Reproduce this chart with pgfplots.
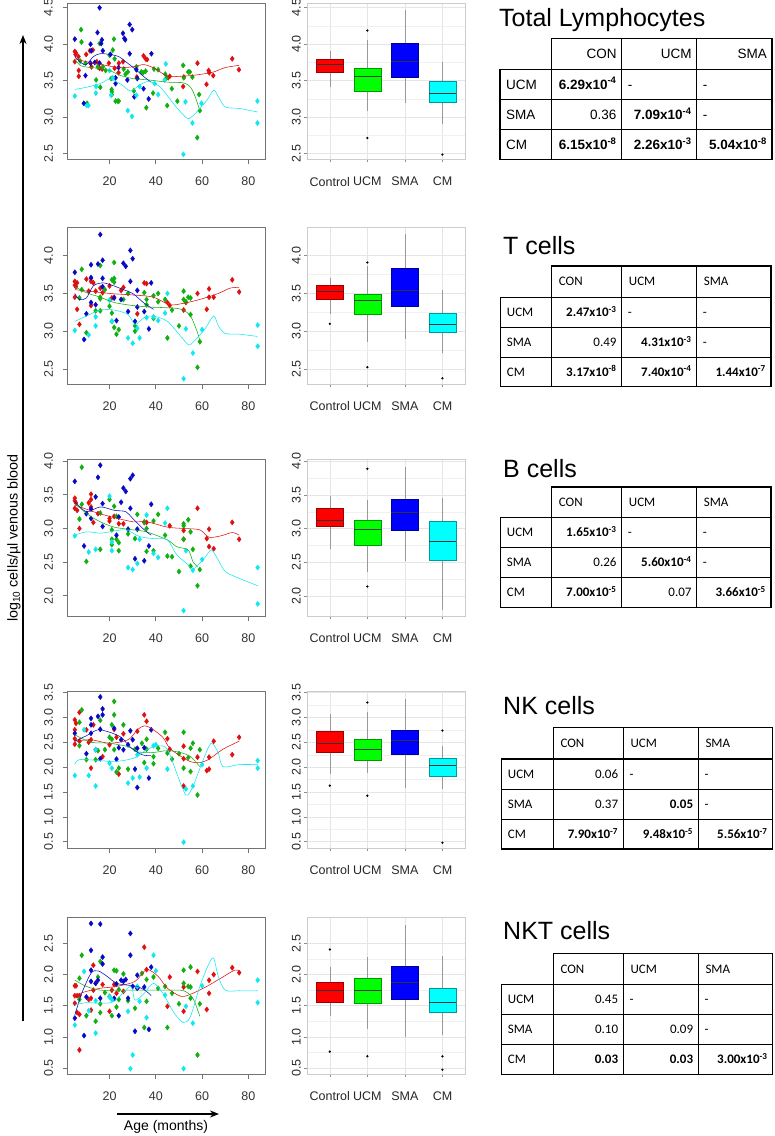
\documentclass[border=0pt]{standalone}
\usepackage{fontspec}
\setmainfont{Liberation Sans}
\newfontfamily\calfont{Carlito}
\usepackage{pgfplots}
\pgfplotsset{compat=1.18}
\usepgfplotslibrary{statistics}
\usetikzlibrary{arrows.meta}

\definecolor{cR}{HTML}{E01010}
\definecolor{cG}{HTML}{10B010}
\definecolor{cB}{HTML}{0808C8}
\definecolor{cC}{HTML}{10E8F0}
\definecolor{bR}{HTML}{FF0000}
\definecolor{bG}{HTML}{00FF00}
\definecolor{bB}{HTML}{0000FF}
\definecolor{bC}{HTML}{00FFFF}

\pgfplotsset{
  sc/.style={scale only axis, width=197.5pt, height=156.5pt,
    xmin=1.84, xmax=87.16, xtick={20,40,60,80}, xticklabels={20,40,60,80},
    tick pos=left, tick align=outside, major tick length=5pt,
    axis line style={draw=black!55, line width=0.9pt},
    tick style={draw=black!55, line width=0.7pt},
    tick label style={font=\fontsize{12.5}{13}\selectfont, text=black!80},
    yticklabel=\empty, clip mode=individual,
    xticklabel style={yshift=-9pt}},
  bx/.style={scale only axis, width=157.7pt, height=156.5pt,
    xmin=0.4, xmax=4.6, xtick={1,2,3,4}, xticklabels={Control,UCM,SMA,CM},
    tick pos=left, tick align=outside, major tick length=3pt,
    axis line style={draw=black!20, line width=0.6pt},
    tick style={draw=black!45, line width=0.5pt},
    xmajorgrids, ymajorgrids, yminorgrids, minor y tick num=1, minor tick length=0pt,
    major grid style={draw=black!10, line width=0.5pt},
    minor grid style={draw=black!6, line width=0.3pt},
    tick label style={font=\fontsize{12.5}{13}\selectfont, text=black!85},
    yticklabel style={rotate=90, anchor=south},
    xticklabel style={yshift=-11pt},
    boxplot/draw direction=y,
    boxplot/box extend=0.72, boxplot/whisker extend=0,
    boxplot/every median/.style={draw=black!80, line width=0.9pt}},
  pt/.style={only marks, mark=diamond*, mark size=2.6pt, color=#1},
  ln/.style={no marks, smooth, line width=0.55pt, color=#1},
}

\newcommand{\yl}[2]{\node[xshift=-19pt, rotate=90, inner sep=0pt, font=\fontsize{12.5}{13}\selectfont, text=black!80] at (axis cs:1.84,#1) {#2};}
\newcommand{\bxp}[8]{\addplot[boxplot prepared={draw position=#1, lower whisker=#3, lower quartile=#4, median=#5, upper quartile=#6, upper whisker=#7}, draw=black!40, line width=0.6pt, boxplot/every box/.style={draw=#2!60!black, fill=#2}, mark=*, mark size=0.8pt, mark options={draw=black, fill=black}] coordinates {#8};}

\newcommand{\tabgrid}[5]{%
 \draw[line width=1.3pt, line cap=rect] (\tA,#1) -- (\tR,#1) (\tL,#2) -- (\tR,#2) (\tL,#3) -- (\tR,#3) (\tL,#4) -- (\tR,#4) (\tL,#5) -- (\tR,#5)
 (\tL,#2) -- (\tL,#5) (\tA,#1) -- (\tA,#5) (\tB,#1) -- (\tB,#5) (\tC,#1) -- (\tC,#5) (\tR,#1) -- (\tR,#5);}
\newcommand{\cellr}[3]{\node[anchor=base east, inner sep=0pt] at (#1-5,#2) {#3};}
\newcommand{\celll}[3]{\node[anchor=base west, inner sep=0pt] at (#1+6,#2) {#3};}
\newcommand{\sci}[2]{\textbf{#1x10\textsuperscript{#2}}}

\begin{document}
\begin{tikzpicture}
\useasboundingbox (0,0) rectangle (775pt,1136pt);

%%%%%%%%%%%%%%%% ROW 1
\begin{axis}[sc, at={(67.5pt,1133pt)}, anchor=north west, ymin=2.42, ymax=4.565,
  ytick={2.5,3,3.5,4,4.5}]
\addplot[pt=cR] coordinates {(5,3.90)(5.5,3.88)(5.3,3.86)(5,3.76)(6.6,3.83)(6.7,3.64)(6.7,3.56)(9.9,3.86)(11.5,3.91)(12.2,3.69)(12.8,3.92)(14.5,3.76)(15.7,3.67)(16.8,3.66)(19.7,3.74)(22.2,3.67)(23.9,3.61)(24,3.74)(25.8,3.76)(31.8,3.55)(34.7,3.84)(35.6,3.80)(36.2,3.79)(45.3,3.54)(46,3.56)(51.8,3.42)(52.1,3.55)(58,3.74)(61.9,3.45)(62.8,3.64)(63.1,3.61)(64.8,3.57)(73,3.80)(75.9,3.65)};
\addplot[pt=cG] coordinates {(7.7,4.20)(7.9,4.03)(7.3,3.77)(9.6,3.74)(10.3,3.19)(14.2,3.51)(14.9,3.69)(15.7,4.01)(16,3.41)(17.1,3.69)(18.3,3.64)(20,3.85)(20.7,3.53)(20.9,3.38)(21,3.35)(21,3.31)(21.4,3.92)(21.9,4.07)(22.2,3.80)(22.6,3.22)(23.6,3.22)(24,3.22)(26.1,3.66)(26.9,3.59)(27.9,3.62)(30.5,3.36)(31.6,3.69)(33.7,3.62)(34.5,3.61)(35.6,3.63)(35.9,3.13)(38.8,3.33)(39.2,3.66)(41,3.65)(44.1,3.59)(44.6,3.54)(44.9,3.16)(46.9,3.39)(49.3,3.22)(51.8,3.71)(52.1,3.54)(54,3.62)(54.7,3.62)(55.8,3.55)(58.7,3.31)(57.9,2.72)(59,3.09)};
\addplot[pt=cB] coordinates {(5,4.07)(8.9,3.19)(9.6,3.57)(11.8,4.00)(11.8,3.74)(12.1,3.91)(13.6,3.75)(14.8,4.16)(15.7,4.50)(15.7,3.74)(16.4,4.01)(16.7,4.06)(17.1,3.91)(20.4,3.86)(22.6,3.54)(22.6,3.46)(23.9,3.68)(25.8,4.15)(26.4,4.08)(26.8,4.06)(27.7,3.51)(28.7,3.87)(28.7,4.27)(29.8,4.20)(30.7,3.28)(31.6,3.65)(32,3.53)(34.7,3.39)(36.9,3.25)(38.1,3.87)};
\addplot[pt=cC] coordinates {(5,3.29)(10.2,3.16)(10.9,3.16)(14.1,3.33)(14.2,3.42)(20,3.64)(20.7,3.30)(21.4,3.54)(27.9,3.09)(29.7,3.01)(31.6,3.30)(33,3.42)(39.5,3.46)(41,3.31)(44.3,3.73)(43.8,3.51)(52.8,3.21)(55.8,2.92)(59.7,3.19)(51.9,2.49)(83.9,3.22)(83.9,2.92)};
\addplot[ln=cR] coordinates {(5,3.80)(10,3.76)(15,3.73)(20,3.70)(25,3.68)(30,3.69)(35,3.72)(40,3.66)(45,3.56)(50,3.56)(55,3.57)(60,3.59)(65,3.62)(70,3.68)(76,3.71)};
\addplot[ln=cG] coordinates {(5,3.79)(8,3.70)(15,3.67)(20,3.64)(24,3.58)(30,3.53)(37,3.51)(45,3.48)(52,3.47)(55,3.41)(57,3.28)(59,3.09)};
\addplot[ln=cB] coordinates {(5,3.83)(8,3.74)(10,3.72)(13,3.83)(16,3.87)(20,3.86)(24,3.83)(27,3.76)(31,3.66)(35,3.55)(38,3.48)};
\addplot[ln=cC] coordinates {(5,3.38)(10,3.41)(16,3.46)(20,3.52)(25,3.45)(29,3.36)(33,3.44)(37,3.49)(42,3.41)(47,3.21)(51,3.06)(54,2.98)(57,3.05)(62,3.23)(65,3.37)(67,3.28)(70,3.14)(76,3.12)(84,3.07)};
\yl{2.5}{2.5}\yl{3}{3.0}\yl{3.5}{3.5}\yl{4}{4.0}\yl{4.5}{4.5}
\end{axis}
\begin{axis}[bx, at={(307.3pt,1133pt)}, anchor=north west, ymin=2.42, ymax=4.565,
  ytick={2.5,3,3.5,4,4.5}, yticklabels={2.5,3.0,3.5,4.0,4.5}]
\bxp{1}{bR}{3.413}{3.611}{3.717}{3.796}{3.911}{}
\bxp{2}{bG}{3.091}{3.358}{3.565}{3.671}{4.058}{(2,4.187)(2,2.714)}
\bxp{3}{bB}{3.188}{3.552}{3.763}{4.017}{4.472}{}
\bxp{4}{bC}{2.912}{3.206}{3.326}{3.496}{3.763}{(4,2.488)}
\end{axis}

%%%%%%%%%%%%%%%% ROW 2
\begin{axis}[sc, at={(67.5pt,908.5pt)}, anchor=north west, ymin=2.30, ymax=4.374,
  ytick={2.5,3,3.5,4}]
\addplot[pt=cR] coordinates {(5,3.66)(5,3.61)(5.5,3.59)(5,3.45)(6,3.64)(6,3.29)(7,3.09)(10,3.69)(11,3.53)(12,3.34)(12,3.66)(12,3.70)(13,3.64)(14,3.53)(16,3.57)(17,3.51)(20,3.60)(21,3.44)(22,3.45)(25,3.54)(26,3.58)(32,3.23)(35,3.64)(36,3.63)(45,3.38)(46,3.34)(52,3.28)(53,3.38)(58,3.50)(62,3.29)(63,3.45)(63,3.56)(65,3.45)(73,3.68)(76,3.52)};
\addplot[pt=cG] coordinates {(8,3.82)(7,3.44)(8,3.55)(10,2.98)(14,3.27)(16,3.27)(16,3.45)(16,3.43)(16,3.87)(18,3.55)(20,3.33)(21,3.68)(21,3.24)(21,3.13)(22,3.05)(22,3.91)(22,3.70)(22,3.65)(23,2.96)(24,3.02)(26,3.42)(28,3.50)(31,3.00)(31,3.07)(35,3.51)(36,3.42)(36,3.35)(39,3.17)(39,3.47)(41,3.50)(41,3.39)(44,3.42)(45,2.91)(47,3.28)(50,3.07)(52,3.53)(52,3.42)(53,3.39)(54,3.45)(55,3.22)(55,3.44)(58,2.52)(59,2.86)};
\addplot[pt=cB] coordinates {(5,3.78)(9,2.89)(10,3.23)(12,3.88)(12,3.38)(12,3.71)(14,3.35)(15,3.89)(16,4.28)(17,3.94)(17,3.70)(17,3.59)(22,3.44)(23,3.14)(25,3.42)(26,3.90)(27,3.86)(28,3.26)(29,3.66)(29,4.07)(30,3.96)(31,3.13)(32,3.54)(32,3.32)(35,3.26)(37,3.03)(38,3.64)};
\addplot[pt=cC] coordinates {(5,3.01)(11,2.95)(14,3.07)(14,3.19)(20,3.41)(21,3.13)(28,2.91)(30,2.84)(32,3.04)(33,2.91)(36,3.18)(39,3.19)(41,3.14)(44,3.24)(45,3.50)(53,3.03)(56,2.71)(60,3.02)(52,2.37)(84,3.08)(84,2.80)};
\addplot[ln=cR] coordinates {(5,3.55)(20,3.50)(30,3.48)(39,3.45)(46,3.35)(52,3.37)(59,3.42)(67,3.50)(72,3.57)(76,3.58)};
\addplot[ln=cG] coordinates {(5,3.59)(10,3.51)(16,3.45)(22,3.38)(30,3.34)(37,3.32)(45,3.31)(51,3.29)(55,3.20)(58,2.98)(59,2.87)};
\addplot[ln=cB] coordinates {(5,3.50)(7,3.42)(10,3.44)(13,3.60)(17,3.64)(21,3.61)(26,3.55)(30,3.50)(35,3.37)(39,3.29)};
\addplot[ln=cC] coordinates {(5,3.13)(10,3.20)(16,3.28)(22,3.28)(28,3.22)(31,3.09)(35,3.18)(39,3.20)(45,3.13)(50,2.96)(54,2.82)(56,2.85)(61,3.02)(65,3.20)(67,3.07)(70,2.97)(76,2.96)(84,2.93)};
\yl{2.5}{2.5}\yl{3}{3.0}\yl{3.5}{3.5}\yl{4}{4.0}
\end{axis}
\begin{axis}[bx, at={(307.3pt,908.5pt)}, anchor=north west, ymin=2.30, ymax=4.374,
  ytick={2.5,3,3.5,4}, yticklabels={2.5,3.0,3.5,4.0}]
\bxp{1}{bR}{3.226}{3.425}{3.522}{3.611}{3.708}{(1,3.097)}
\bxp{2}{bG}{2.863}{3.217}{3.407}{3.487}{3.867}{(2,3.91)(2,2.522)}
\bxp{3}{bB}{2.894}{3.323}{3.540}{3.836}{4.288}{}
\bxp{4}{bC}{2.717}{2.991}{3.084}{3.243}{3.544}{(4,2.376)}
\end{axis}

%%%%%%%%%%%%%%%% ROW 3
\begin{axis}[sc, at={(67.5pt,676.5pt)}, anchor=north west, ymin=1.70, ymax=4.025,
  ytick={2,2.5,3,3.5,4}]
\addplot[pt=cR] coordinates {(5,3.45)(5,3.41)(5.5,3.38)(5,3.30)(6,3.27)(7,3.00)(11,3.38)(12,3.32)(12,3.43)(12,3.51)(13,3.09)(15,3.22)(20,3.11)(20,3.15)(22,3.18)(24,3.07)(26,3.07)(35,3.09)(36,3.09)(46,3.04)(52,2.84)(52,2.97)(58,3.30)(62,2.85)(63,2.99)(63,2.73)(65,2.70)(73,3.09)(76,2.84)};
\addplot[pt=cG] coordinates {(8,3.91)(8,3.36)(7,3.14)(10,2.51)(16,2.69)(16,3.23)(20,3.43)(21,2.98)(21,2.84)(21,2.76)(22,3.33)(23,3.18)(23,2.84)(24,2.79)(24,2.67)(28,2.92)(31,2.85)(32,3.21)(35,3.10)(36,3.00)(36,2.66)(39,3.11)(39,2.67)(41,3.21)(44,2.90)(45,2.59)(47,2.58)(50,2.36)(52,3.04)(52,3.07)(52,2.84)(54,3.13)(55,2.95)(55,2.44)(56,2.69)(58,2.15)(59,2.39)};
\addplot[pt=cB] coordinates {(5,3.70)(9,2.74)(10,3.22)(12,3.29)(12,3.15)(14,3.47)(15,3.76)(16,3.94)(17,3.37)(17,3.03)(23,2.90)(24,3.17)(25,3.39)(26,3.60)(27,3.55)(28,2.99)(29,3.30)(29,3.74)(30,3.79)(31,2.55)(32,2.99)(35,2.52)(37,2.74)(38,3.36)};
\addplot[pt=cC] coordinates {(5,2.89)(11,2.65)(14,2.69)(20,3.48)(21,2.80)(21,2.67)(28,2.42)(30,2.39)(32,2.48)(33,2.84)(36,3.20)(39,2.63)(41,2.57)(44,3.08)(45,3.30)(53,2.67)(56,2.38)(60,2.54)(52,1.78)(84,2.42)(84,1.88)};
\addplot[ln=cR] coordinates {(5,3.35)(13,3.25)(20,3.18)(30,3.10)(36,3.10)(45,3.02)(52,3.00)(59,2.98)(63,2.87)(68,2.89)(73,2.94)(76,2.90)};
\addplot[ln=cG] coordinates {(5,3.37)(11,3.20)(16,3.10)(22,3.02)(30,2.98)(36,2.95)(45,2.83)(49,2.73)(54,2.68)(56,2.51)(58,2.43)};
\addplot[ln=cB] coordinates {(5,3.40)(10,3.25)(16,3.32)(22,3.27)(27,3.25)(30,3.15)(35,2.98)(38,2.90)};
\addplot[ln=cC] coordinates {(5,2.90)(10,2.95)(16,2.93)(20,2.95)(27,2.98)(33,2.88)(39,2.85)(45,2.83)(49,2.61)(54,2.46)(56,2.39)(61,2.56)(64,2.68)(67,2.53)(70,2.36)(76,2.26)(84,2.15)};
\yl{2}{2.0}\yl{2.5}{2.5}\yl{3}{3.0}\yl{3.5}{3.5}\yl{4}{4.0}
\end{axis}
\begin{axis}[bx, at={(307.3pt,676.5pt)}, anchor=north west, ymin=1.70, ymax=4.025,
  ytick={2,2.5,3,3.5,4}, yticklabels={2.0,2.5,3.0,3.5,4.0}]
\bxp{1}{bR}{2.690}{3.034}{3.118}{3.300}{3.483}{}
\bxp{2}{bG}{2.360}{2.754}{2.985}{3.128}{3.429}{(2,3.887)(2,2.138)}
\bxp{3}{bB}{2.522}{2.975}{3.241}{3.429}{3.911}{}
\bxp{4}{bC}{1.793}{2.527}{2.803}{3.108}{3.458}{}
\end{axis}

%%%%%%%%%%%%%%%% ROW 4
\begin{axis}[sc, at={(67.5pt,444.5pt)}, anchor=north west, ymin=0.374, ymax=3.52,
  ytick={0.5,1,1.5,2,2.5,3,3.5}]
\addplot[pt=cR] coordinates {(5,2.57)(5,2.46)(5,2.95)(5.5,2.88)(5,2.75)(7,3.10)(7,2.52)(10,2.75)(12,1.98)(11,2.50)(12,2.55)(13,2.85)(17,2.21)(20,2.45)(22,2.76)(23,2.60)(24,1.86)(26,2.67)(32,2.72)(35,3.05)(36,2.92)(45,2.57)(46,2.36)(52,1.62)(52,2.17)(52,2.42)(58,2.20)(62,1.93)(63,1.96)(63,2.20)(65,2.52)(73,2.25)(76,2.60)};
\addplot[pt=cG] coordinates {(8,3.15)(7,2.90)(7,2.43)(10,2.15)(14,2.15)(15,2.33)(16,2.94)(18,2.35)(20,2.60)(21,2.85)(21,2.56)(22,3.32)(22,3.05)(22,2.35)(23,1.90)(24,1.98)(26,2.85)(28,1.96)(31,2.36)(34,2.48)(35,2.09)(36,2.56)(36,2.36)(39,2.21)(39,2.07)(41,2.38)(44,2.70)(45,2.28)(47,2.16)(50,2.27)(52,2.70)(52,1.98)(54,2.19)(55,1.91)(55,2.38)(56,2.48)(58,1.44)(59,2.35)};
\addplot[pt=cB] coordinates {(5,2.68)(10,2.27)(12,2.85)(12,2.68)(12,2.98)(14,2.35)(15,3.02)(16,3.41)(16,2.76)(17,3.17)(17,3.05)(16,2.17)(22,2.78)(23,2.16)(24,2.39)(25,2.55)(26,2.35)(28,2.45)(29,2.73)(30,2.55)(31,1.96)(32,1.59)(32,2.38)(35,2.39)(37,1.78)(38,2.75)};
\addplot[pt=cC] coordinates {(5,1.83)(9,2.75)(11,1.83)(14,1.62)(14,2.35)(20,2.08)(21,1.98)(28,1.68)(30,1.78)(32,2.25)(33,1.80)(36,1.98)(39,2.43)(40,2.45)(45,1.96)(53,1.56)(56,1.62)(60,2.05)(52,0.49)(84,2.13)(84,1.98)};
\addplot[ln=cR] coordinates {(5,2.52)(12,2.55)(20,2.48)(28,2.55)(32,2.75)(35,2.83)(38,2.78)(43,2.60)(46,2.38)(51,2.21)(55,2.11)(59,2.09)(63,2.16)(69,2.36)(76,2.52)};
\addplot[ln=cG] coordinates {(5,2.65)(12,2.50)(20,2.48)(28,2.41)(32,2.31)(38,2.29)(45,2.33)(51,2.29)(55,2.21)(59,2.01)};
\addplot[ln=cB] coordinates {(5,2.52)(10,2.63)(15,2.75)(20,2.70)(25,2.60)(29,2.40)(34,2.25)(38,2.23)};
\addplot[ln=cC] coordinates {(5,2.05)(7,2.15)(16,2.13)(22,2.11)(28,2.15)(32,2.21)(36,2.35)(41,2.43)(45,2.36)(49,1.88)(53,1.44)(56,1.61)(61,2.21)(64,2.48)(67,2.28)(69,2.01)(76,2.05)(84,2.05)};
\yl{0.5}{0.5}\yl{1}{1.0}\yl{1.5}{1.5}\yl{2}{2.0}\yl{2.5}{2.5}\yl{3}{3.0}\yl{3.5}{3.5}
\end{axis}
\begin{axis}[bx, at={(307.3pt,444.5pt)}, anchor=north west, ymin=0.374, ymax=3.52,
  ytick={0.5,1,1.5,2,2.5,3,3.5}, yticklabels={0.5,1.0,1.5,2.0,2.5,3.0,3.5}]
\bxp{1}{bR}{1.856}{2.299}{2.480}{2.715}{3.070}{(1,1.628)}
\bxp{2}{bG}{1.876}{2.138}{2.346}{2.560}{3.111}{(2,3.299)(2,1.426)}
\bxp{3}{bB}{1.574}{2.258}{2.534}{2.748}{3.372}{}
\bxp{4}{bC}{1.554}{1.822}{2.037}{2.171}{2.426}{(4,2.735)(4,0.480)}
\end{axis}

%%%%%%%%%%%%%%%% ROW 5
\begin{axis}[sc, at={(67.5pt,218.5pt)}, anchor=north west, ymin=0.404, ymax=2.916,
  ytick={0.5,1,1.5,2,2.5}]
\addplot[pt=cR] coordinates {(5,1.82)(5.5,1.82)(5,1.66)(6,1.66)(5,1.54)(6,1.39)(7,1.36)(7,0.79)(7,1.66)(11,1.60)(12,1.62)(12,1.43)(13,2.15)(13,1.75)(14,1.86)(17,1.84)(20,1.41)(21,1.75)(22,1.84)(23,1.70)(26,1.73)(32,1.78)(35,2.44)(36,2.08)(45,1.49)(46,1.96)(52,1.41)(52,1.80)(58,2.05)(62,1.44)(63,1.91)(63,1.70)(65,2.00)(73,2.11)(76,2.03)};
\addplot[pt=cG] coordinates {(8,2.31)(7,1.94)(7,1.60)(10,1.34)(14,1.25)(15,1.96)(16,2.21)(16,1.53)(16,1.39)(18,1.71)(20,1.65)(21,1.34)(22,2.07)(23,2.06)(23,1.48)(24,1.60)(24,1.76)(26,2.01)(28,1.58)(31,1.46)(34,2.02)(35,1.15)(36,1.57)(36,1.92)(39,1.96)(41,1.78)(44,1.81)(45,1.15)(47,1.70)(50,1.53)(52,2.07)(52,1.86)(54,1.81)(55,2.12)(55,1.80)(55,1.62)(58,0.71)(59,1.53)};
\addplot[pt=cB] coordinates {(5,1.30)(9,1.02)(10,1.64)(12,2.82)(12,2.39)(12,2.07)(12,1.89)(14,1.86)(15,1.91)(16,2.81)(16,1.62)(17,2.28)(17,2.17)(22,1.62)(23,1.85)(24,1.34)(25,1.91)(26,1.89)(27,1.92)(28,1.62)(29,2.66)(29,2.31)(30,1.81)(31,1.09)(32,1.99)(32,1.78)(35,1.80)(37,1.12)(38,2.12)};
\addplot[pt=cC] coordinates {(5,1.19)(9,2.05)(11,1.42)(14,1.06)(14,1.58)(20,1.64)(21,1.60)(28,1.41)(30,0.71)(29,0.49)(32,1.81)(33,1.57)(36,1.31)(39,2.31)(40,2.06)(44,1.67)(53,1.49)(56,1.22)(60,1.82)(52,0.49)(84,1.91)(84,1.55)};
\addplot[ln=cR] coordinates {(5,1.67)(10,1.73)(16,1.78)(23,1.81)(31,1.89)(36,2.08)(41,1.97)(45,1.78)(51,1.65)(56,1.70)(62,1.81)(68,1.94)(74,2.07)(76,2.06)};
\addplot[ln=cG] coordinates {(5,1.91)(10,1.81)(16,1.75)(23,1.75)(31,1.75)(38,1.75)(45,1.75)(52,1.74)(56,1.62)(59,1.33)};
\addplot[ln=cB] coordinates {(5,1.35)(8,1.70)(12,2.02)(15,2.06)(19,1.97)(23,1.86)(28,1.83)(32,1.81)(36,1.73)(38,1.66)};
\addplot[ln=cC] coordinates {(5,1.51)(10,1.55)(16,1.54)(22,1.57)(29,1.81)(31,1.59)(35,1.70)(39,1.86)(43,1.70)(48,1.38)(52,1.23)(55,1.33)(59,1.81)(63,2.18)(65,2.26)(67,1.97)(70,1.75)(76,1.74)(84,1.74)};
\yl{0.5}{0.5}\yl{1}{1.0}\yl{1.5}{1.5}\yl{2}{2.0}\yl{2.5}{2.5}
\end{axis}
\begin{axis}[bx, at={(307.3pt,218.5pt)}, anchor=north west, ymin=0.404, ymax=2.916,
  ytick={0.5,1,1.5,2,2.5}, yticklabels={0.5,1.0,1.5,2.0,2.5}]
\bxp{1}{bR}{1.328}{1.554}{1.742}{1.876}{2.118}{(1,2.403)(1,0.763)}
\bxp{2}{bG}{1.134}{1.532}{1.753}{1.941}{2.285}{(2,0.688)}
\bxp{3}{bB}{0.995}{1.608}{1.866}{2.134}{2.790}{}
\bxp{4}{bC}{1.032}{1.387}{1.554}{1.774}{2.296}{(4,0.688)(4,0.473)}
\end{axis}

%%%%%%%%%%%%%%%% annotations and tables (image coordinates)
\begin{scope}[yshift=1136pt, x=1pt, y=-1pt]
\draw[line width=2pt, -{Stealth[length=9pt,width=7pt]}] (23,1021) -- (23,35);
\draw[line width=2pt, -{Stealth[length=9pt,width=7pt]}] (117,1114) -- (219,1114);
\node[rotate=90, font=\fontsize{14.3}{15}\selectfont] at (14,538) {log\textsubscript{10} cells/\textmu l venous blood};
\node[font=\fontsize{14}{15}\selectfont] at (166,1127) {Age (months)};

% titles
\node[anchor=base west, inner sep=0pt, font=\fontsize{25}{25}\selectfont] at (499,27) {Total Lymphocytes};
\node[anchor=base west, inner sep=0pt, font=\fontsize{25}{25}\selectfont] at (503,255) {T cells};
\node[anchor=base west, inner sep=0pt, font=\fontsize{25}{25}\selectfont] at (503,478) {B cells};
\node[anchor=base west, inner sep=0pt, font=\fontsize{25}{25}\selectfont] at (503,715) {NK cells};
\node[anchor=base west, inner sep=0pt, font=\fontsize{25}{25}\selectfont] at (503,940) {NKT cells};

% Table 1
\def\tL{500}\def\tA{551.7}\def\tB{621.7}\def\tC{696.7}\def\tR{772}
\tabgrid{38.3}{69.3}{99.5}{129.8}{159.3}
\begin{scope}[font=\fontsize{13.5}{14}\selectfont]
\cellr{\tB}{58.6}{CON}\cellr{\tC}{58.6}{UCM}\cellr{\tR}{58.6}{SMA}
\celll{\tL}{89.2}{UCM}\celll{\tL}{119.4}{SMA}\celll{\tL}{149.3}{CM}
\cellr{\tB}{89.2}{\sci{6.29}{-4}}\celll{\tB}{89.2}{-}\celll{\tC}{89.2}{-}
\cellr{\tB}{119.4}{0.36}\cellr{\tC}{119.4}{\sci{7.09}{-4}}\celll{\tC}{119.4}{-}
\cellr{\tB}{149.3}{\sci{6.15}{-8}}\cellr{\tC}{149.3}{\sci{2.26}{-3}}\cellr{\tR}{149.3}{\sci{5.04}{-8}}
\end{scope}

% Table 2
\def\tL{500.7}\def\tA{551.7}\def\tB{621.7}\def\tC{696.7}\def\tR{771}
\tabgrid{266}{297.3}{327.3}{357.3}{386.7}
\begin{scope}[font=\calfont\fontsize{13}{14}\selectfont]
\celll{\tA+1}{286}{CON}\celll{\tB+1}{286}{UCM}\celll{\tC+1}{286}{SMA}
\celll{\tL}{316.6}{UCM}\celll{\tL}{346.6}{SMA}\celll{\tL}{376.3}{CM}
\cellr{\tB}{316.6}{\sci{2.47}{-3}}\celll{\tB}{316.6}{-}\celll{\tC}{316.6}{-}
\cellr{\tB}{346.6}{0.49}\cellr{\tC}{346.6}{\sci{4.31}{-3}}\celll{\tC}{346.6}{-}
\cellr{\tB}{376.3}{\sci{3.17}{-8}}\cellr{\tC}{376.3}{\sci{7.40}{-4}}\cellr{\tR}{376.3}{\sci{1.44}{-7}}
\end{scope}

% Table 3
\tabgrid{487}{517.5}{547.5}{577.5}{607.5}
\begin{scope}[font=\calfont\fontsize{13}{14}\selectfont]
\celll{\tA+1}{506.6}{CON}\celll{\tB+1}{506.6}{UCM}\celll{\tC+1}{506.6}{SMA}
\celll{\tL}{536.8}{UCM}\celll{\tL}{566.8}{SMA}\celll{\tL}{596.8}{CM}
\cellr{\tB}{536.8}{\sci{1.65}{-3}}\celll{\tB}{536.8}{-}\celll{\tC}{536.8}{-}
\cellr{\tB}{566.8}{0.26}\cellr{\tC}{566.8}{\sci{5.60}{-4}}\celll{\tC}{566.8}{-}
\cellr{\tB}{596.8}{\sci{7.00}{-5}}\cellr{\tC}{596.8}{0.07}\cellr{\tR}{596.8}{\sci{3.66}{-5}}
\end{scope}

% Table 4
\def\tL{501.7}\def\tA{553.3}\def\tB{623.3}\def\tC{698.3}\def\tR{772.7}
\tabgrid{727.7}{759}{789.3}{819.3}{849}
\begin{scope}[font=\calfont\fontsize{13}{14}\selectfont]
\celll{\tA+1}{747.7}{CON}\celll{\tB+1}{747.7}{UCM}\celll{\tC+1}{747.7}{SMA}
\celll{\tL}{778.5}{UCM}\celll{\tL}{808.6}{SMA}\celll{\tL}{838.5}{CM}
\cellr{\tB}{778.5}{0.06}\celll{\tB}{778.5}{-}\celll{\tC}{778.5}{-}
\cellr{\tB}{808.6}{0.37}\cellr{\tC}{808.6}{\textbf{0.05}}\celll{\tC}{808.6}{-}
\cellr{\tB}{838.5}{\sci{7.90}{-7}}\cellr{\tC}{838.5}{\sci{9.48}{-5}}\cellr{\tR}{838.5}{\sci{5.56}{-7}}
\end{scope}

% Table 5
\tabgrid{953.3}{984.3}{1014.3}{1044.3}{1074.3}
\begin{scope}[font=\calfont\fontsize{13}{14}\selectfont]
\celll{\tA+1}{973.1}{CON}\celll{\tB+1}{973.1}{UCM}\celll{\tC+1}{973.1}{SMA}
\celll{\tL}{1003.6}{UCM}\celll{\tL}{1033.6}{SMA}\celll{\tL}{1063.6}{CM}
\cellr{\tB}{1003.6}{0.45}\celll{\tB}{1003.6}{-}\celll{\tC}{1003.6}{-}
\cellr{\tB}{1033.6}{0.10}\cellr{\tC}{1033.6}{0.09}\celll{\tC}{1033.6}{-}
\cellr{\tB}{1063.6}{\textbf{0.03}}\cellr{\tC}{1063.6}{\textbf{0.03}}\cellr{\tR}{1063.6}{\sci{3.00}{-3}}
\end{scope}
\end{scope}
\end{tikzpicture}
\end{document}
